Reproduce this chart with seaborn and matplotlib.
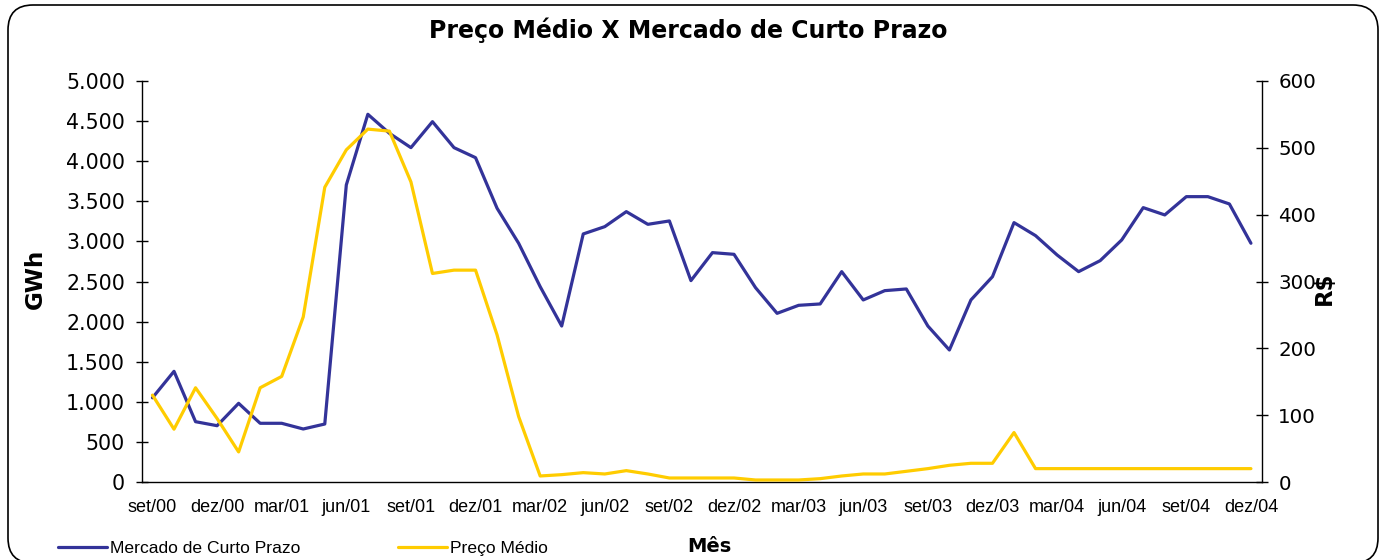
import matplotlib
matplotlib.use("Agg")
import matplotlib.pyplot as plt
import seaborn as sns
import numpy as np
import pandas as pd
from matplotlib.patches import FancyBboxPatch

# ---- data ----
tick_labels = ["set/00", "dez/00", "mar/01", "jun/01", "set/01", "dez/01",
               "mar/02", "jun/02", "set/02", "dez/02", "mar/03", "jun/03",
               "set/03", "dez/03", "mar/04", "jun/04", "set/04", "dez/04"]

mercado_gwh = [1050, 1380, 752, 702, 981, 732, 732, 661, 723, 3704,
               4585, 4348, 4169, 4493, 4169, 4044, 3413, 2977, 2436, 1945,
               3093, 3184, 3371, 3213, 3255, 2511, 2860, 2839, 2423, 2103,
               2203, 2220, 2623, 2270, 2386, 2407, 1945, 1646, 2270, 2560,
               3234, 3072, 2831, 2623, 2760, 3018, 3421, 3330, 3558, 3558,
               3467, 2977]

preco_rs = [130, 79, 141, 95, 45, 141, 158, 247, 441, 497,
            528, 525, 449, 312, 317, 317, 220, 98, 9, 11,
            14, 12, 17, 12, 6, 6, 6, 6, 3, 3,
            3, 5, 9, 12, 12, 16, 20, 25, 28, 28,
            74, 20, 20, 20, 20, 20, 20, 20, 20, 20,
            20, 20]

series_names = ["Mercado de Curto Prazo", "Preço Médio"]

# ---- styling ----
sns.set_style("white")
plt.rcParams['font.family'] = ['DejaVu Sans']
plt.rcParams['text.color'] = 'black'
plt.rcParams['xtick.color'] = 'black'
plt.rcParams['ytick.color'] = 'black'
plt.rcParams['axes.labelcolor'] = 'black'

BLUE = "#333399"
YELLOW = "#FFCC00"

W, H = 1386, 560
fig = plt.figure(figsize=(W / 100, H / 100), dpi=100)

x0, x1, y_top, y_bot = 141.7, 1261.7, 81, 482
ax = fig.add_axes([x0 / W, 1 - y_bot / H, (x1 - x0) / W, (y_bot - y_top) / H])
ax2 = ax.twinx()

n = len(mercado_gwh)
df = pd.DataFrame({"idx": np.arange(n), "gwh": mercado_gwh, "rs": preco_rs})

sns.lineplot(data=df, x="idx", y="gwh", ax=ax, color=BLUE, linewidth=2.3,
             label=series_names[0], legend=False)
sns.lineplot(data=df, x="idx", y="rs", ax=ax2, color=YELLOW, linewidth=2.3,
             label=series_names[1], legend=False)

ax.set_xlim(-0.5, n - 0.5)
ax.set_ylim(0, 5000)
ax2.set_ylim(0, 600)

ax.set_yticks(np.arange(0, 5001, 500))
ax.set_yticklabels([f"{v:,}".replace(",", ".") for v in range(0, 5001, 500)])
ax2.set_yticks(np.arange(0, 601, 100))

ax.set_xticks(np.arange(0, n, 3))
ax.set_xticklabels(tick_labels, fontfamily="Liberation Sans", fontsize=13)
ax.set_xticks(np.arange(-0.5, n, 1), minor=True)
ax.tick_params(axis="x", which="major", length=0, pad=12)
ax.tick_params(axis="x", which="minor", direction="inout", length=8, width=1, color="black")

ax.tick_params(axis="y", direction="inout", length=8, width=1, labelsize=14.8, pad=8, color="black")
ax2.tick_params(axis="y", direction="inout", length=8, width=1, labelsize=14.3, pad=8, color="black")

for a in (ax, ax2):
    a.set_xlabel("")
    a.set_ylabel("")
    a.spines["top"].set_visible(False)
    for s in ("left", "right", "bottom"):
        a.spines[s].set_color("black")
        a.spines[s].set_linewidth(1)
ax.spines["right"].set_visible(False)
ax2.spines["left"].set_visible(False)
ax2.spines["bottom"].set_visible(False)
ax.grid(False)
ax2.grid(False)

# titles / labels
fig.text(688 / W, 1 - 30 / H, "Preço Médio X Mercado de Curto Prazo",
         ha="center", va="center", fontsize=17, fontweight="bold", color="black")
fig.text(35 / W, 1 - 279 / H, "GWh", rotation=90, ha="center", va="center",
         fontsize=16.5, fontweight="bold", color="black")
fig.text(1324 / W, 1 - 288 / H, "R$", rotation=90, ha="center", va="center",
         fontsize=16.5, fontweight="bold", color="black")
fig.text(709 / W, 1 - 547 / H, "Mês", ha="center", va="center",
         fontsize=14, fontweight="bold", color="black")

# legend
h1 = ax.get_lines()[0]
h2 = ax2.get_lines()[0]
fig.legend([h1, h2], series_names, ncol=2, loc="center left",
           bbox_to_anchor=(58 / W, 1 - 548 / H), frameon=False,
           borderpad=0, borderaxespad=0, handlelength=2.8, handletextpad=0.17,
           columnspacing=5.6, prop={"family": "Liberation Sans", "size": 12.6},
           labelcolor="black")

# rounded border
border = FancyBboxPatch((8, -3), 1370, 558, boxstyle="round,pad=0,rounding_size=25",
                        transform=None, fill=False, edgecolor="black", linewidth=1.2)
fig.patches.append(border)

fig.savefig("out.png", dpi=100)
